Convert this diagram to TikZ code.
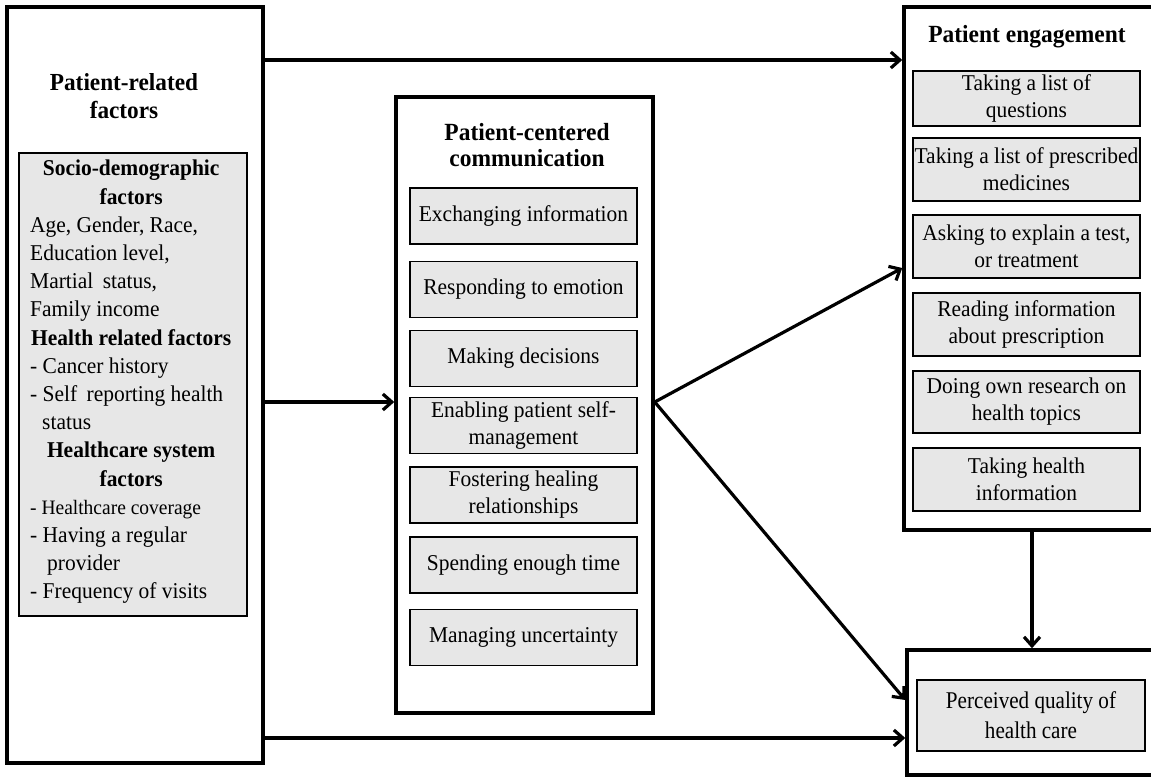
\documentclass[tikz,border=0pt]{standalone}
\usepackage{fontspec}
\setmainfont[FakeStretch=0.95]{Liberation Serif}
\newfontfamily\narrowserif[FakeStretch=0.88]{Liberation Serif}
\usetikzlibrary{arrows.meta,calc}
\definecolor{boxgray}{HTML}{E7E7E7}
\begin{document}
\begin{tikzpicture}[x=1pt,y=-1pt,
 outerbox/.style={draw=black, line width=3.5pt, fill=white, inner sep=0pt},
 subbox/.style={draw=black, line width=1.8pt, fill=boxgray, minimum width=227pt, minimum height=56pt, inner sep=0pt, align=center, font=\fontsize{22.6}{27}\selectfont},
 titletext/.style={align=center, font=\fontsize{24.7}{26}\selectfont\bfseries, inner sep=0pt},
 conn/.style={line width=3.2pt, -{Straight Barb[length=9pt,width=16pt]}}
]
\useasboundingbox (0,0) rectangle (1151,778);
% outer boxes
\node[outerbox, minimum width=256pt, minimum height=756pt] (lp) at (135,385) {};
\node[outerbox, minimum width=257pt, minimum height=616pt] (mp) at (524.5,405) {};
\node[outerbox, minimum width=250pt, minimum height=523pt] (re) at (1029,268.5) {};
\node[outerbox, minimum width=247pt, minimum height=125pt] (br) at (1030.5,712.5) {};
% titles
\node[titletext, font=\fontsize{24.5}{28}\selectfont\bfseries] (lt) at (124,96) {Patient-related\\factors};
\node[titletext] (mt) at (527,145) {Patient-centered\\communication};
\node[titletext] (rt) at (1027,37) {Patient engagement};
% left inner
\node[draw=black, line width=1.8pt, fill=boxgray, minimum width=228pt, minimum height=463pt, inner sep=0pt] (lbox) at (133,384.5) {};
\node[anchor=west, align=left, inner sep=0pt, font=\fontsize{22.6}{28.2}\selectfont] (ltext) at (30,382) {%
\makebox[202pt][c]{\bfseries Socio-demographic}\\
\makebox[202pt][c]{\bfseries factors}\\
Age, Gender, Race,\\
Education level,\\
Martial\hspace{4pt} status,\\
Family income\\
\makebox[202pt][c]{\bfseries Health related factors}\\
- Cancer history\\
- Self\hspace{4pt} reporting health\\
\hspace*{12pt}status\\
\makebox[202pt][c]{\bfseries Healthcare system}\\
\makebox[202pt][c]{\bfseries factors}\\
{\fontsize{20.5}{28.2}\selectfont - Healthcare coverage}\\
- Having a regular\\
\hspace*{17pt}provider\\
- Frequency of visits};
% middle subboxes
\node[subbox] (m1) at (523.5,216) {Exchanging information};
\node[subbox] (m2) at (523.5,289.5) {Responding to emotion};
\node[subbox] (m3) at (523.5,358.5) {Making decisions};
\node[subbox] (m4) at (523.5,425.5) {Enabling patient self-\\management};
\node[subbox] (m5) at (523.5,495) {Fostering healing\\relationships};
\node[subbox] (m6) at (523.5,565) {Spending enough time};
\node[subbox] (m7) at (523.5,637.5) {Managing uncertainty};
% right subboxes
\node[subbox, minimum height=55pt] (r1) at (1026.5,98.5) {Taking a list of\\questions};
\node[subbox, minimum height=63pt] (r2) at (1026.5,169.5) {Taking a list of prescribed\\medicines};
\node[subbox, minimum height=63pt] (r3) at (1026.5,246.5) {Asking to explain a test,\\or treatment};
\node[subbox, minimum height=63pt] (r4) at (1026.5,324.5) {Reading information\\about prescription};
\node[subbox, minimum height=62pt] (r5) at (1026.5,402) {Doing own research on\\health topics};
\node[subbox, minimum height=63pt] (r6) at (1026.5,479.5) {Taking health\\information};
% bottom right inner
\node[subbox, minimum width=228pt, minimum height=71pt, font=\narrowserif\fontsize{24}{30}\selectfont] (pq) at (1031,715.5) {Perceived quality of\\health care};
% connectors
\coordinate (y1) at (0,60);
\coordinate (y2) at (0,402);
\coordinate (y3) at (0,738);
\coordinate (ya) at (0,268);
\coordinate (yb) at (0,700);
\coordinate (xv) at (1032,0);
\draw[conn] (lp.east |- y1) -- (re.west |- y1);
\draw[conn] (lp.east |- y2) -- (mp.west |- y2);
\draw[conn] (lp.east |- y3) -- (br.west |- y3);
\draw[conn] (mp.east |- y2) -- (re.west |- ya);
\draw[conn] (mp.east |- y2) -- (br.west |- yb);
\draw[conn] (re.south -| xv) -- (br.north -| xv);
\end{tikzpicture}
\end{document}
